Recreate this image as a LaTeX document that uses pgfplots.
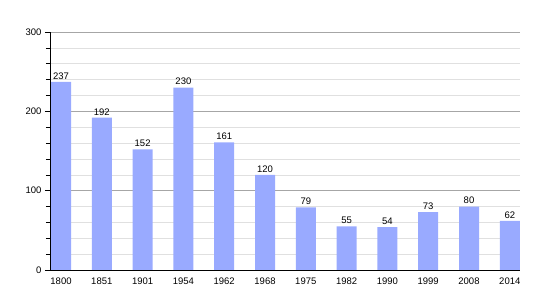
\documentclass[border=0pt]{standalone}
\usepackage{pgfplots}
\pgfplotsset{compat=1.18}
\usepackage{fontspec}
\setmainfont{Liberation Sans}
\definecolor{barblue}{HTML}{99AAFF}
\begin{document}
\begin{tikzpicture}[x=1pt,y=1pt]
\path[use as bounding box] (-50,-30) rectangle (500,270);
\begin{axis}[
  at={(0,0)}, anchor=south west,
  scale only axis, width=470pt, height=238pt,
  xmin=-0.27, xmax=11.25, ymin=0, ymax=300,
  axis x line*=bottom, axis y line*=left,
  axis line style={black, line width=0.8pt},
  xtick=data,
  xticklabels={1800,1851,1901,1954,1962,1968,1975,1982,1990,1999,2008,2014},
  x tick style={draw=none},
  ytick={0,100,200,300},
  minor y tick num=4,
  tick align=outside,
  major tick length=5pt, minor tick length=4pt,
  y tick style={black, line width=0.6pt},
  ymajorgrids, yminorgrids,
  major grid style={draw=black!35, line width=0.5pt},
  minor grid style={draw=black!12, line width=0.5pt},
  tick label style={font=\fontsize{9.5}{11}\selectfont},
  /pgf/number format/assume math mode=true,
  xticklabel style={yshift=1pt},
  nodes near coords,
  nodes near coords style={font=\fontsize{9.5}{11}\selectfont, black, yshift=-1pt},
]
\addplot[ybar, bar width=20pt, fill=barblue, draw=none] coordinates {
(0,237) (1,192) (2,152) (3,230) (4,161) (5,120) (6,79) (7,55) (8,54) (9,73) (10,80) (11,62)
};
\end{axis}
\end{tikzpicture}
\end{document}
